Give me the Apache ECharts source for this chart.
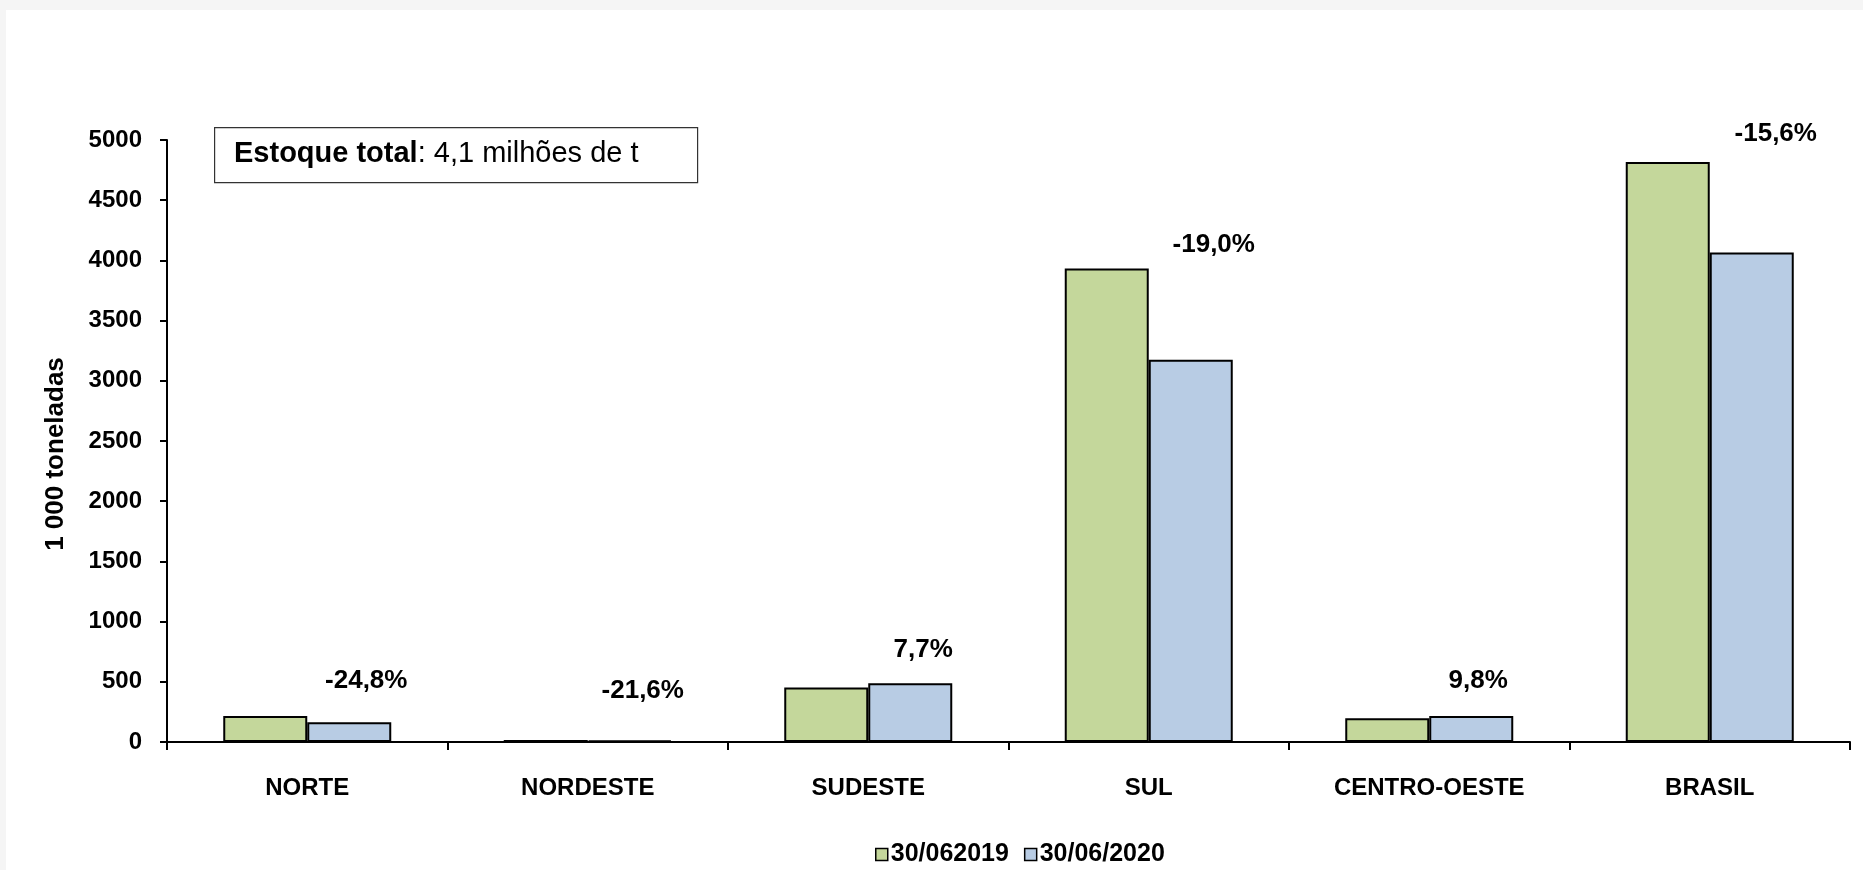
<!DOCTYPE html>
<html>
<head>
<meta charset="utf-8">
<script src="https://cdn.jsdelivr.net/npm/echarts@6/dist/echarts.min.js"></script>
<style>
  html, body { margin: 0; padding: 0; background: #f5f5f5; }
  #chart { position: absolute; left: 6px; top: 10px; width: 1857px; height: 860px; background: #fff; }
</style>
</head>
<body>
<div id="chart"></div>
<script>
// estoques por região (1 000 t)
const regioes = ['NORTE', 'NORDESTE', 'SUDESTE', 'SUL', 'CENTRO-OESTE', 'BRASIL']
const estoque2019 = [216, 17, 452, 3932, 197, 4817]
const estoque2020 = [164, 13, 487, 3175, 216, 4066]
const variacao = ['-24,8%', '-21,6%', '7,7%', '-19,0%', '9,8%', '-15,6%']
const yTicks = { min: 0, max: 5000, interval: 500 }

// ajuste fino dos rótulos de variação (px), como estavam as caixas de texto no original
const ajusteRotulo = [[4, 0], [0, -14], [0, 2], [10, 12], [-6, 0], [11, 7]]

const fonte = 'Liberation Sans, Arial, sans-serif'
const chart = echarts.init(document.getElementById('chart'))

// ponto invisivel no topo da maior barra de cada grupo, só pra pôr o rótulo
const topos = regioes.map((r, i) => ({
  value: Math.max(estoque2019[i], estoque2020[i]),
  label: { offset: [55 + ajusteRotulo[i][0], ajusteRotulo[i][1]] }
}))

const option = {
  animation: false,
  textStyle: { fontFamily: fonte },
  grid: { left: 161, top: 130, right: 13, bottom: 128 },
  legend: {
    top: 827,
    left: 864,
    itemWidth: 12,
    itemHeight: 12,
    itemGap: 15,
    icon: 'rect',
    data: ['30/062019', '30/06/2020'],
    textStyle: { fontFamily: fonte, fontWeight: 'bold', fontSize: 25, color: '#000', padding: [0, 0, 0, -2] },
    itemStyle: { borderColor: '#000', borderWidth: 1.5 }
  },
  xAxis: {
    type: 'category',
    data: regioes,
    axisLine: { lineStyle: { color: '#000', width: 2 } },
    axisTick: { show: true, inside: false, length: 8, lineStyle: { color: '#000', width: 2 } },
    axisLabel: { margin: 34, color: '#000', fontWeight: 'bold', fontSize: 24, fontFamily: fonte }
  },
  yAxis: {
    type: 'value',
    min: yTicks.min,
    max: yTicks.max,
    interval: yTicks.interval,
    name: '1 000 toneladas',
    nameLocation: 'middle',
    nameRotate: 90,
    nameGap: 98,
    nameTextStyle: { color: '#000', fontWeight: 'bold', fontSize: 26, fontFamily: fonte, padding: [0, 26, 0, 0] },
    splitLine: { show: false },
    axisLine: { show: true, lineStyle: { color: '#000', width: 2 } },
    axisTick: { show: true, length: 7, lineStyle: { color: '#000', width: 2 } },
    axisLabel: {
      margin: 25,
      color: '#000',
      fontWeight: 'bold',
      fontSize: 24,
      fontFamily: fonte,
      formatter: v => String(v)
    }
  },
  series: [
    {
      name: '30/062019',
      type: 'bar',
      data: estoque2019,
      barWidth: 84,
      barGap: '0%',
      itemStyle: { color: '#C4D79B', borderColor: '#000', borderWidth: 2 }
    },
    {
      name: '30/06/2020',
      type: 'bar',
      data: estoque2020,
      barWidth: 84,
      itemStyle: { color: '#B8CCE4', borderColor: '#000', borderWidth: 2 }
    },
    {
      type: 'scatter',
      data: topos,
      symbolSize: 1,
      // scatter tem opacidade 0.8 por padrão e o rótulo herda, por isso opacity 1
      itemStyle: { color: 'transparent', opacity: 1 },
      silent: true,
      label: {
        show: true,
        position: 'top',
        distance: 22,
        formatter: p => variacao[p.dataIndex],
        color: '#000',
        fontWeight: 'bold',
        fontSize: 26,
        fontFamily: fonte
      }
    }
  ],
  graphic: [
    {
      type: 'rect',
      left: 208,
      top: 117,
      shape: { width: 483, height: 55 },
      style: { fill: '#fff', stroke: '#333', lineWidth: 1.2 }
    },
    {
      type: 'text',
      left: 228,
      top: 129,
      style: {
        text: '{b|Estoque total}{n|: 4,1 milhões de t}',
        rich: {
          b: { fontFamily: fonte, fontWeight: 'bold', fontSize: 29, fill: '#000' },
          n: { fontFamily: fonte, fontSize: 29, fill: '#000' }
        }
      }
    }
  ]
}

chart.setOption(option)
</script>
</body>
</html>
